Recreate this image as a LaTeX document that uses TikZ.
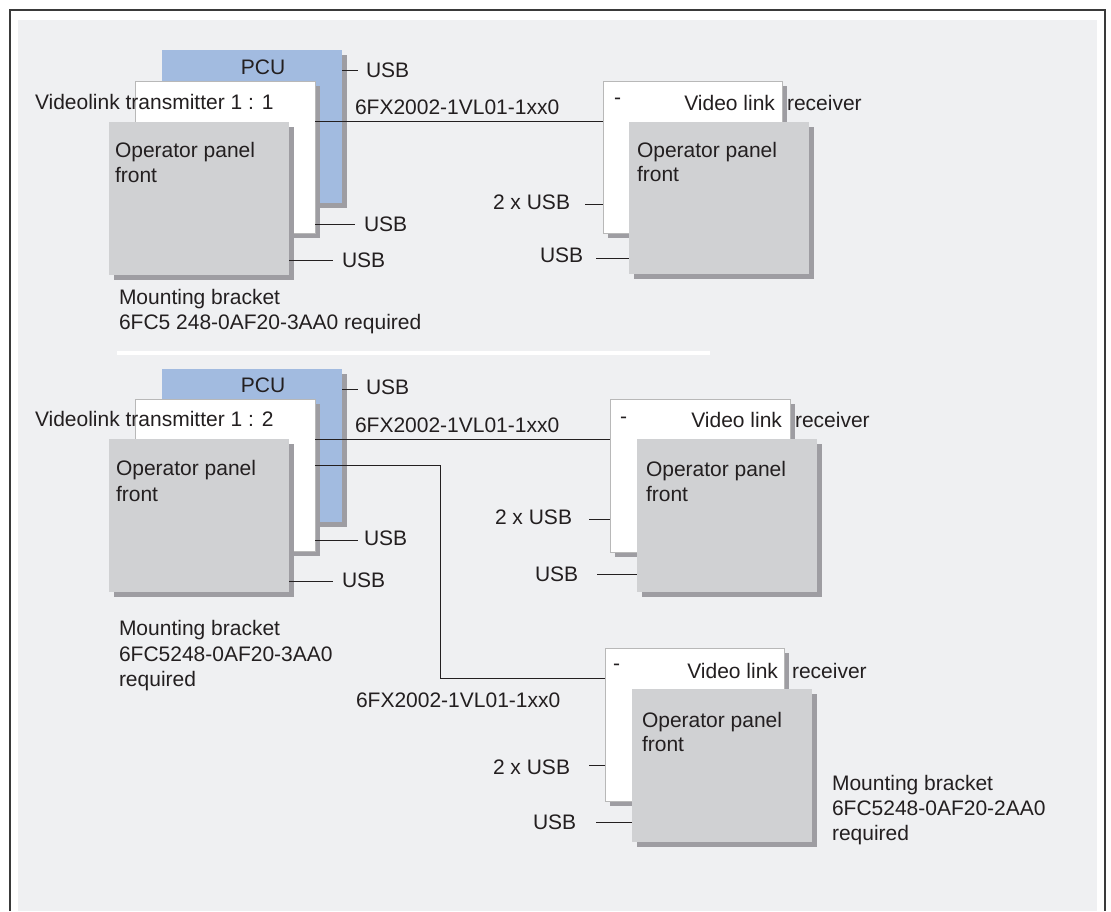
\documentclass[tikz,border=0pt]{standalone}
\usepackage{fontspec}
\setmainfont{Liberation Sans}
\usetikzlibrary{shadows}
\definecolor{bgc}{HTML}{EFF0F2}
\definecolor{pcuc}{HTML}{A2BBE0}
\definecolor{frc}{HTML}{D0D1D3}
\definecolor{shadc}{HTML}{9E9DA2}
\definecolor{bordc}{HTML}{B8B8B8}
\definecolor{txtc}{HTML}{231F20}
\definecolor{framec}{HTML}{3A3A3A}
\begin{document}
\begin{tikzpicture}[x=1pt,y=-1pt,
  box/.style={rectangle, inner sep=0pt, outer sep=0pt, anchor=north west,
    minimum width=180pt, minimum height=153pt,
    drop shadow={shadow xshift=5pt, shadow yshift=-5pt, fill=shadc, opacity=1}},
  pcubox/.style={box, fill=pcuc},
  txbox/.style={box, fill=white, draw=bordc, line width=0.8pt},
  frbox/.style={box, fill=frc},
  lbl/.style={inner sep=0pt, outer sep=0pt, anchor=base west, text=txtc,
    font=\fontsize{21}{25}\selectfont},
  lbr/.style={lbl, anchor=base east},
  lbc/.style={lbl, anchor=base},
  wire/.style={draw=txtc, line width=0.9pt}]
\useasboundingbox (0,0) rectangle (1111,911);
\fill[white] (0,0) rectangle (1111,911);
\fill[bgc] (18,20) rectangle (1097,911);
\draw[framec, line width=2pt] (10,911) -- (10,10) -- (1105,10) -- (1105,911);

% ---------------- top section ----------------
\node[pcubox] (pcuA) at (162,50) {};
\node[txbox, minimum height=152pt] (txA) at (135,81) {};
\node[frbox] (frA) at (109,122) {};
\node[lbc] (pcuAt) at (263,74.5) {PCU};
\node[lbl] (usbA1) at (366,77.5) {USB};
\node[lbl] (vtA) at (35,109.5) {Videolink transmitter 1 : 1};
\node[lbl] (cabA) at (355,114.5) {6FX2002-1VL01-1xx0};
\node[lbl] (opA1) at (115,157.5) {Operator panel};
\node[lbl] (opA2) at (115,182.5) {front};
\node[lbl] (usbA2) at (364,231.5) {USB};
\node[lbl] (usbA3) at (342,267.5) {USB};
\node[lbl] (mbA1) at (119,304.5) {Mounting bracket};
\node[lbl] (mbA2) at (119,329) {6FC5 248-0AF20-3AA0 required};

% receiver 1
\node[txbox, minimum width=179pt, minimum height=152pt] (rxA) at (603,81) {};
\node[frbox, minimum height=152pt] (rfA) at (629,122) {};
\node[lbl] (dashA) at (614,104) {-};
\node[lbr] (vlA) at (775,110.5) {Video link};
\node[lbl] (rcA) at (787,110.5) {receiver};
\node[lbl] (ropA1) at (637,157.5) {Operator panel};
\node[lbl] (ropA2) at (637,181.5) {front};
\node[lbl] (twoA) at (493,209.5) {2 x USB};
\node[lbl] (rusbA) at (540,262.5) {USB};

\draw[wire, shorten >=8pt] (pcuA.east |- 0,70) -- (usbA1.west |- 0,70);
\draw[wire] (txA.east |- 0,121) -- (rxA.west |- 0,121);
\draw[wire, shorten >=9pt] (txA.east |- 0,224) -- (usbA2.west |- 0,224);
\draw[wire, shorten >=9pt] (frA.east |- 0,260) -- (usbA3.west |- 0,260);
\draw[wire, shorten <=15pt] (twoA.east |- 0,204) -- (rxA.west |- 0,204);
\draw[wire, shorten <=13pt] (rusbA.east |- 0,258) -- (rfA.west |- 0,258);

% separator
\draw[white, line width=4pt] (117,353) -- (710,353);

% ---------------- middle section ----------------
\node[pcubox] (pcuB) at (162,369) {};
\node[txbox, minimum height=152pt] (txB) at (135,399) {};
\node[frbox] (frB) at (109,439) {};
\node[lbc] (pcuBt) at (263,392.5) {PCU};
\node[lbl] (usbB1) at (366,394.5) {USB};
\node[lbl] (vtB) at (35,426.5) {Videolink transmitter 1 : 2};
\node[lbl] (cabB) at (355,432.5) {6FX2002-1VL01-1xx0};
\node[lbl] (opB1) at (116,475.5) {Operator panel};
\node[lbl] (opB2) at (116,501) {front};
\node[lbl] (usbB2) at (364,545.5) {USB};
\node[lbl] (usbB3) at (342,587.5) {USB};
\node[lbl] (mbB1) at (119,635.5) {Mounting bracket};
\node[lbl] (mbB2) at (119,661) {6FC5248-0AF20-3AA0};
\node[lbl] (mbB3) at (119,686.5) {required};

% receiver 2
\node[txbox, minimum height=153pt] (rxB) at (610,399) {};
\node[frbox] (rfB) at (637,439) {};
\node[lbl] (dashB) at (620,423) {-};
\node[lbr] (vlB) at (782,427.5) {Video link};
\node[lbl] (rcB) at (795,427.5) {receiver};
\node[lbl] (ropB1) at (646,476.5) {Operator panel};
\node[lbl] (ropB2) at (646,501.5) {front};
\node[lbl] (twoB) at (495,524.5) {2 x USB};
\node[lbl] (rusbB) at (535,581.5) {USB};

% receiver 3
\node[txbox, minimum width=179pt] (rxC) at (605,648) {};
\node[frbox] (rfC) at (632,689) {};
\node[lbl] (dashC) at (613,670) {-};
\node[lbr] (vlC) at (778,678.5) {Video link};
\node[lbl] (rcC) at (792,678.5) {receiver};
\node[lbl] (ropC1) at (642,727.5) {Operator panel};
\node[lbl] (ropC2) at (642,751.5) {front};
\node[lbl] (twoC) at (493,774.5) {2 x USB};
\node[lbl] (rusbC) at (533,829.5) {USB};
\node[lbl] (cabC) at (356,707.5) {6FX2002-1VL01-1xx0};
\node[lbl] (mbC1) at (832,790.5) {Mounting bracket};
\node[lbl] (mbC2) at (832,815.5) {6FC5248-0AF20-2AA0};
\node[lbl] (mbC3) at (832,840.5) {required};

\coordinate (bend) at (440,678);
\draw[wire, shorten >=8pt] (pcuB.east |- 0,389) -- (usbB1.west |- 0,389);
\draw[wire] (txB.east |- 0,439) -- (rxB.west |- 0,439);
\draw[wire] (txB.east |- 0,465) -| (bend) -- (rxC.west |- bend);
\draw[wire, shorten >=6pt] (txB.east |- 0,540) -- (usbB2.west |- 0,540);
\draw[wire, shorten >=9pt] (frB.east |- 0,581) -- (usbB3.west |- 0,581);
\draw[wire, shorten <=17pt] (twoB.east |- 0,519) -- (rxB.west |- 0,519);
\draw[wire, shorten <=19pt] (rusbB.east |- 0,574) -- (rfB.west |- 0,574);
\draw[wire, shorten <=19pt] (twoC.east |- 0,765) -- (rxC.west |- 0,765);
\draw[wire, shorten <=20pt] (rusbC.east |- 0,822) -- (rfC.west |- 0,822);
\end{tikzpicture}
\end{document}
